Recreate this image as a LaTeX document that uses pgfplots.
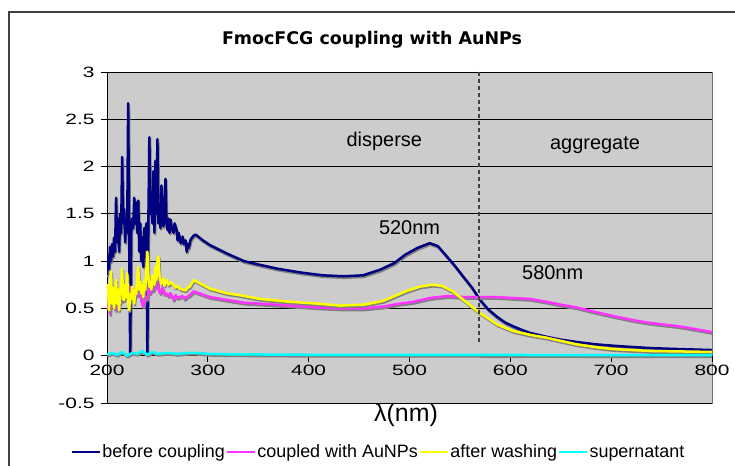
\documentclass[border=0pt]{standalone}
\usepackage{fontspec}
\setmainfont{Liberation Sans}
\newfontfamily\tickfont{Liberation Sans}[FakeStretch=1.4]
\newfontfamily\titlefont{DejaVu Sans}
\usepackage{pgfplots}
\usepackage{pgfplotstable}
\pgfplotsset{compat=1.18}

\definecolor{plotbg}{RGB}{204,204,204}
\definecolor{cnavy}{RGB}{0,0,128}
\definecolor{cmag}{RGB}{255,51,255}
\definecolor{cyel}{RGB}{255,255,0}
\definecolor{ccyan}{RGB}{0,255,255}
\definecolor{shadowgray}{RGB}{128,128,128}

% before coupling
\pgfplotstableread{
nm a
200 0.85
201 1.05
202 0.92
203 1.15
204 1.00
205 1.18
206 1.05
207 1.25
208 1.10
209 1.67
210 1.20
211 1.45
212 1.10
213 1.50
214 1.30
215 2.10
216 1.40
217 1.55
218 1.20
219 1.45
220 1.30
221 2.67
222 1.20
223 0.02
224 1.30
225 1.45
226 1.35
227 1.67
228 1.40
229 1.62
230 1.30
231 1.64
232 1.10
233 1.40
234 1.00
235 1.25
236 0.94
237 1.35
238 1.20
239 1.40
240 0.04
241 1.40
242 2.31
243 1.50
244 1.69
245 1.40
246 1.95
247 1.30
248 2.06
249 1.50
250 2.29
251 1.40
252 1.60
253 1.35
254 1.80
255 1.45
256 1.37
257 1.60
258 1.87
259 1.40
260 1.33
261 1.45
262 1.30
263 1.44
264 1.35
266 1.30
267 1.40
269 1.33
270 1.22
271 1.30
273 1.19
275 1.26
276 1.18
278 1.22
279 1.10
280 1.18
281 1.14
283 1.23
286 1.27
288 1.28
295 1.22
302 1.17
319 1.08
336 1.00
352 0.96
369 0.92
392 0.88
414 0.85
435 0.84
454 0.85
471 0.91
485 0.98
496 1.07
508 1.14
520 1.19
528 1.16
537 1.05
545 0.95
553 0.84
562 0.72
570 0.59
578 0.49
587 0.41
595 0.35
603 0.31
612 0.27
620 0.24
636 0.20
650 0.17
666 0.145
685 0.12
709 0.10
740 0.08
768 0.07
800 0.06
}\tblbefore

% coupled with AuNPs
\pgfplotstableread{
nm a
200 0.62
201 0.50
202 0.58
203 0.44
204 0.60
205 0.55
206 0.73
207 0.55
208 0.62
209 0.48
211 0.60
213 0.55
214 0.66
215 0.58
217 0.59
219 0.65
221 0.60
223 0.73
225 0.62
226 0.68
228 0.62
230 0.70
231 0.64
233 0.66
234 0.58
236 0.52
238 0.62
240 0.60
241 0.73
243 0.66
244 0.72
246 0.69
248 0.74
250 0.80
251 0.70
253 0.66
255 0.72
257 0.65
259 0.66
261 0.63
263 0.66
266 0.59
268 0.64
270 0.61
272 0.62
275 0.63
277 0.60
279 0.62
282 0.64
286 0.68
302 0.62
319 0.59
336 0.56
352 0.55
382 0.53
410 0.51
431 0.50
455 0.50
474 0.52
490 0.55
504 0.57
520 0.61
537 0.63
555 0.62
570 0.62
587 0.62
603 0.61
620 0.60
636 0.57
650 0.54
666 0.51
685 0.46
702 0.42
720 0.38
736 0.35
768 0.31
800 0.25
}\tblcoupled

% after washing
\pgfplotstableread{
nm a
200 0.60
201 0.75
202 0.48
203 0.70
204 0.89
205 0.55
206 0.72
207 0.50
208 0.65
209 0.80
210 0.55
211 0.70
212 0.48
213 0.65
214 0.75
215 0.92
216 0.60
217 0.59
218 0.75
219 0.62
220 0.87
221 0.55
222 0.48
223 0.65
224 0.60
225 0.73
226 0.62
227 0.55
228 0.70
229 0.65
230 0.80
231 0.94
232 0.70
233 0.78
234 0.66
235 0.75
236 0.62
237 0.80
238 0.70
239 0.90
240 1.10
241 0.85
242 0.73
243 0.78
244 0.70
245 0.85
246 0.80
247 0.75
248 0.94
249 0.80
250 1.00
251 1.05
252 0.85
253 0.80
254 0.76
256 0.82
257 0.74
259 0.80
261 0.75
263 0.78
266 0.75
268 0.72
270 0.74
272 0.71
275 0.70
278 0.69
280 0.72
282 0.73
286 0.80
302 0.71
319 0.66
332 0.64
352 0.60
382 0.57
410 0.55
431 0.53
455 0.54
474 0.58
496 0.68
510 0.73
522 0.75
532 0.74
543 0.68
557 0.56
570 0.45
587 0.33
603 0.26
620 0.22
636 0.19
666 0.12
685 0.09
702 0.07
740 0.05
800 0.04
}\tblwashed

% supernatant
\pgfplotstableread{
nm a
200 0.01
205 0.03
210 0.01
215 0.04
220 0.00
225 0.03
230 0.02
235 0.05
240 0.01
245 0.04
250 0.02
260 0.03
270 0.02
280 0.03
288 0.03
300 0.02
320 0.015
400 0.01
500 0.01
600 0.008
700 0.005
800 0.005
}\tblsuper

\begin{document}
\begin{tikzpicture}
\useasboundingbox (0bp,0bp) rectangle (735bp,466bp);
\draw[line width=1.5bp, black!75] (9bp,0bp) -- (9bp,454bp) -- (735bp,454bp);
\node[font=\titlefont\bfseries\fontsize{17.5}{20}\selectfont] at (372bp,426bp) {FmocFCG coupling with AuNPs};
\begin{axis}[
    at={(107bp,63bp)}, anchor=south west,
    width=605bp, height=331bp, scale only axis,
    xmin=200, xmax=800, ymin=-0.5, ymax=3,
    xtick={200,300,...,800},
    ytick={-0.5,0,0.5,1,1.5,2,2.5,3},
    axis x line=middle, axis y line=left,
    axis line style={-, black, line width=1bp},
    hide obscured x ticks=false, hide obscured y ticks=false,
    tick align=outside,
    major tick length=6bp,
    tick style={black, line width=0.8bp},
    ymajorgrids,
    major grid style={black, line width=0.9bp},
    axis background/.style={fill=plotbg, draw=black!55, line width=0.8bp},
    tick label style={font=\tickfont\fontsize{15}{15}\selectfont},
    /pgf/number format/assume math mode=true,
    yticklabel style={xshift=-3bp},
    legend style={at={(0.448,-0.148)}, anchor=center, draw=none, fill=none,
        legend columns=4, font=\fontsize{18}{18}\selectfont,
        /tikz/every even column/.append style={column sep=0bp},
        nodes={inner sep=1bp}},
    legend image code/.code={\draw[#1, line width=2.5bp] (0bp,0bp) -- (28bp,0bp);},
    shadow/.style={shadowgray, line width=2.5bp, forget plot, xshift=0.8bp, yshift=-1.6bp},
    every axis plot/.append style={line join=round},
]
\addplot[shadow] table[x=nm, y=a] {\tblbefore};
\addplot[cnavy, line width=2.5bp] table[x=nm, y=a] {\tblbefore};
\addlegendentry{before coupling}
\addplot[shadow] table[x=nm, y=a] {\tblcoupled};
\addplot[cmag, line width=2.5bp] table[x=nm, y=a] {\tblcoupled};
\addlegendentry{coupled with AuNPs}
\addplot[shadow] table[x=nm, y=a] {\tblwashed};
\addplot[cyel, line width=2.5bp] table[x=nm, y=a] {\tblwashed};
\addlegendentry{after washing}
\addplot[shadow] table[x=nm, y=a] {\tblsuper};
\addplot[ccyan, line width=2.5bp] table[x=nm, y=a] {\tblsuper};
\addlegendentry{supernatant}

\draw[black!75, line width=1.2bp, dash pattern=on 4bp off 3bp] (axis cs:569,3) -- (axis cs:569,0.14);
\node[font=\fontsize{20}{20}\selectfont] at (axis cs:475,2.27) {disperse};
\node[font=\fontsize{20}{20}\selectfont] at (axis cs:684,2.23) {aggregate};
\node[font=\fontsize{20}{20}\selectfont] at (axis cs:500,1.35) {520nm};
\node[font=\fontsize{20}{20}\selectfont] at (axis cs:642,0.88) {580nm};
\end{axis}
\node[font=\fontsize{25}{25}\selectfont] at (406bp,51bp) {λ(nm)};
\end{tikzpicture}
\end{document}
